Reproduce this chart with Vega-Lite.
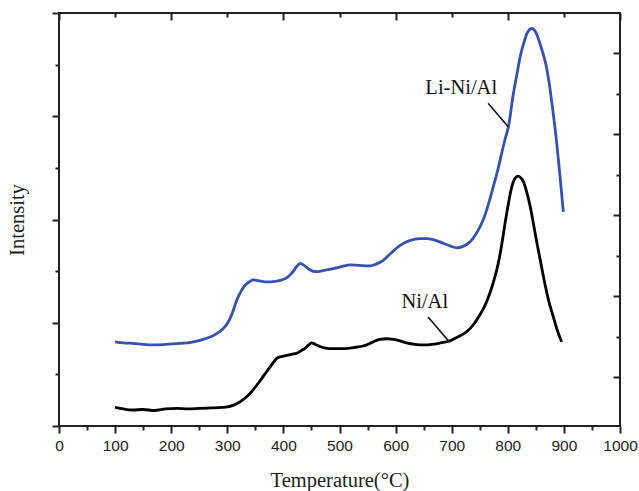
{
  "$schema": "https://vega.github.io/schema/vega-lite/v6.json",
  "width": 561,
  "height": 413,
  "autosize": "none",
  "padding": {"left": 59, "top": 13, "right": 19, "bottom": 65},
  "background": "white",
  "config": {
    "view": {"stroke": "#222", "strokeWidth": 2},
    "axis": {"domain": false, "grid": false, "tickColor": "#222", "tickWidth": 2, "labelFont": "Liberation Sans", "labelFontSize": 15.5, "labelColor": "#222", "titleFont": "Liberation Serif", "titleFontWeight": "normal", "titleFontSize": 20.5, "titleColor": "#222"}
  },
  "datasets": {
    "curves": [
      {"T":100,"v":0.36,"s":"Ni/Al"},{"T":115,"v":0.33,"s":"Ni/Al"},{"T":130,"v":0.31,"s":"Ni/Al"},{"T":150,"v":0.32,"s":"Ni/Al"},{"T":170,"v":0.30,"s":"Ni/Al"},{"T":190,"v":0.33,"s":"Ni/Al"},{"T":210,"v":0.34,"s":"Ni/Al"},{"T":230,"v":0.33,"s":"Ni/Al"},{"T":250,"v":0.34,"s":"Ni/Al"},{"T":270,"v":0.35,"s":"Ni/Al"},{"T":290,"v":0.36,"s":"Ni/Al"},{"T":300,"v":0.37,"s":"Ni/Al"},{"T":310,"v":0.40,"s":"Ni/Al"},{"T":323,"v":0.47,"s":"Ni/Al"},{"T":335,"v":0.57,"s":"Ni/Al"},{"T":346,"v":0.70,"s":"Ni/Al"},{"T":358,"v":0.87,"s":"Ni/Al"},{"T":370,"v":1.05,"s":"Ni/Al"},{"T":380,"v":1.20,"s":"Ni/Al"},{"T":388,"v":1.31,"s":"Ni/Al"},{"T":398,"v":1.35,"s":"Ni/Al"},{"T":406,"v":1.37,"s":"Ni/Al"},{"T":415,"v":1.39,"s":"Ni/Al"},{"T":424,"v":1.41,"s":"Ni/Al"},{"T":432,"v":1.46,"s":"Ni/Al"},{"T":438,"v":1.50,"s":"Ni/Al"},{"T":445,"v":1.57,"s":"Ni/Al"},{"T":450,"v":1.61,"s":"Ni/Al"},{"T":457,"v":1.58,"s":"Ni/Al"},{"T":465,"v":1.54,"s":"Ni/Al"},{"T":475,"v":1.51,"s":"Ni/Al"},{"T":489,"v":1.50,"s":"Ni/Al"},{"T":505,"v":1.50,"s":"Ni/Al"},{"T":525,"v":1.52,"s":"Ni/Al"},{"T":548,"v":1.57,"s":"Ni/Al"},{"T":560,"v":1.63,"s":"Ni/Al"},{"T":572,"v":1.68,"s":"Ni/Al"},{"T":585,"v":1.69,"s":"Ni/Al"},{"T":596,"v":1.68,"s":"Ni/Al"},{"T":608,"v":1.65,"s":"Ni/Al"},{"T":620,"v":1.61,"s":"Ni/Al"},{"T":635,"v":1.58,"s":"Ni/Al"},{"T":650,"v":1.57,"s":"Ni/Al"},{"T":665,"v":1.58,"s":"Ni/Al"},{"T":680,"v":1.61,"s":"Ni/Al"},{"T":697,"v":1.65,"s":"Ni/Al"},{"T":712,"v":1.73,"s":"Ni/Al"},{"T":727,"v":1.83,"s":"Ni/Al"},{"T":740,"v":1.98,"s":"Ni/Al"},{"T":750,"v":2.15,"s":"Ni/Al"},{"T":760,"v":2.35,"s":"Ni/Al"},{"T":768,"v":2.57,"s":"Ni/Al"},{"T":776,"v":2.85,"s":"Ni/Al"},{"T":783,"v":3.15,"s":"Ni/Al"},{"T":789,"v":3.50,"s":"Ni/Al"},{"T":795,"v":3.92,"s":"Ni/Al"},{"T":801,"v":4.30,"s":"Ni/Al"},{"T":807,"v":4.63,"s":"Ni/Al"},{"T":812,"v":4.78,"s":"Ni/Al"},{"T":818,"v":4.84,"s":"Ni/Al"},{"T":823,"v":4.81,"s":"Ni/Al"},{"T":828,"v":4.73,"s":"Ni/Al"},{"T":834,"v":4.52,"s":"Ni/Al"},{"T":840,"v":4.25,"s":"Ni/Al"},{"T":846,"v":3.90,"s":"Ni/Al"},{"T":852,"v":3.54,"s":"Ni/Al"},{"T":859,"v":3.15,"s":"Ni/Al"},{"T":866,"v":2.76,"s":"Ni/Al"},{"T":873,"v":2.42,"s":"Ni/Al"},{"T":881,"v":2.12,"s":"Ni/Al"},{"T":888,"v":1.86,"s":"Ni/Al"},{"T":896,"v":1.63,"s":"Ni/Al"},
      {"T":100,"v":1.63,"s":"Li-Ni/Al"},{"T":115,"v":1.61,"s":"Li-Ni/Al"},{"T":132,"v":1.60,"s":"Li-Ni/Al"},{"T":150,"v":1.58,"s":"Li-Ni/Al"},{"T":168,"v":1.57,"s":"Li-Ni/Al"},{"T":190,"v":1.58,"s":"Li-Ni/Al"},{"T":216,"v":1.60,"s":"Li-Ni/Al"},{"T":235,"v":1.62,"s":"Li-Ni/Al"},{"T":251,"v":1.66,"s":"Li-Ni/Al"},{"T":266,"v":1.71,"s":"Li-Ni/Al"},{"T":281,"v":1.79,"s":"Li-Ni/Al"},{"T":292,"v":1.88,"s":"Li-Ni/Al"},{"T":302,"v":2.02,"s":"Li-Ni/Al"},{"T":310,"v":2.22,"s":"Li-Ni/Al"},{"T":317,"v":2.44,"s":"Li-Ni/Al"},{"T":325,"v":2.62,"s":"Li-Ni/Al"},{"T":332,"v":2.73,"s":"Li-Ni/Al"},{"T":340,"v":2.80,"s":"Li-Ni/Al"},{"T":346,"v":2.83,"s":"Li-Ni/Al"},{"T":358,"v":2.81,"s":"Li-Ni/Al"},{"T":370,"v":2.79,"s":"Li-Ni/Al"},{"T":385,"v":2.80,"s":"Li-Ni/Al"},{"T":397,"v":2.83,"s":"Li-Ni/Al"},{"T":407,"v":2.88,"s":"Li-Ni/Al"},{"T":415,"v":2.96,"s":"Li-Ni/Al"},{"T":423,"v":3.08,"s":"Li-Ni/Al"},{"T":430,"v":3.15,"s":"Li-Ni/Al"},{"T":437,"v":3.11,"s":"Li-Ni/Al"},{"T":444,"v":3.05,"s":"Li-Ni/Al"},{"T":452,"v":3.00,"s":"Li-Ni/Al"},{"T":459,"v":2.99,"s":"Li-Ni/Al"},{"T":470,"v":3.01,"s":"Li-Ni/Al"},{"T":489,"v":3.05,"s":"Li-Ni/Al"},{"T":505,"v":3.09,"s":"Li-Ni/Al"},{"T":519,"v":3.12,"s":"Li-Ni/Al"},{"T":535,"v":3.11,"s":"Li-Ni/Al"},{"T":554,"v":3.10,"s":"Li-Ni/Al"},{"T":566,"v":3.14,"s":"Li-Ni/Al"},{"T":578,"v":3.21,"s":"Li-Ni/Al"},{"T":592,"v":3.35,"s":"Li-Ni/Al"},{"T":608,"v":3.50,"s":"Li-Ni/Al"},{"T":625,"v":3.59,"s":"Li-Ni/Al"},{"T":643,"v":3.63,"s":"Li-Ni/Al"},{"T":655,"v":3.63,"s":"Li-Ni/Al"},{"T":667,"v":3.61,"s":"Li-Ni/Al"},{"T":685,"v":3.54,"s":"Li-Ni/Al"},{"T":697,"v":3.49,"s":"Li-Ni/Al"},{"T":709,"v":3.45,"s":"Li-Ni/Al"},{"T":720,"v":3.48,"s":"Li-Ni/Al"},{"T":733,"v":3.57,"s":"Li-Ni/Al"},{"T":745,"v":3.75,"s":"Li-Ni/Al"},{"T":756,"v":3.99,"s":"Li-Ni/Al"},{"T":765,"v":4.28,"s":"Li-Ni/Al"},{"T":774,"v":4.63,"s":"Li-Ni/Al"},{"T":782,"v":4.95,"s":"Li-Ni/Al"},{"T":789,"v":5.28,"s":"Li-Ni/Al"},{"T":795,"v":5.55,"s":"Li-Ni/Al"},{"T":801,"v":5.79,"s":"Li-Ni/Al"},{"T":810,"v":6.44,"s":"Li-Ni/Al"},{"T":816,"v":6.80,"s":"Li-Ni/Al"},{"T":822,"v":7.15,"s":"Li-Ni/Al"},{"T":828,"v":7.40,"s":"Li-Ni/Al"},{"T":834,"v":7.60,"s":"Li-Ni/Al"},{"T":843,"v":7.70,"s":"Li-Ni/Al"},{"T":851,"v":7.60,"s":"Li-Ni/Al"},{"T":857,"v":7.42,"s":"Li-Ni/Al"},{"T":863,"v":7.21,"s":"Li-Ni/Al"},{"T":869,"v":6.95,"s":"Li-Ni/Al"},{"T":875,"v":6.55,"s":"Li-Ni/Al"},{"T":881,"v":6.05,"s":"Li-Ni/Al"},{"T":887,"v":5.50,"s":"Li-Ni/Al"},{"T":893,"v":4.85,"s":"Li-Ni/Al"},{"T":899,"v":4.15,"s":"Li-Ni/Al"}
    ],
    "labels": [
      {"T":717,"v":6.54,"text":"Li-Ni/Al"},
      {"T":652,"v":2.41,"text":"Ni/Al"}
    ],
    "leaders": [
      {"T":765,"v":6.25,"T2":801,"v2":5.79},
      {"T":658,"v":2.11,"T2":694,"v2":1.65}
    ]
  },
  "resolve": {"axis": {"x": "independent", "y": "independent"}},
  "layer": [
    {
      "data": {"name": "curves"},
      "mark": {"type": "line", "strokeWidth": 2.8, "interpolate": "monotone", "clip": true},
      "encoding": {
        "x": {"field": "T", "type": "quantitative", "scale": {"domain": [0, 1000], "nice": false, "zero": false},
              "axis": {"orient": "bottom", "values": [0,100,200,300,400,500,600,700,800,900,1000], "format": "d", "tickSize": 7, "labelPadding": 5, "title": "Temperature(°C)", "titlePadding": 17, "labelFlush": false}},
        "y": {"field": "v", "type": "quantitative", "scale": {"domain": [0, 8], "nice": false, "zero": false},
              "axis": {"orient": "left", "values": [0,2,4,6,8], "tickSize": 7, "labels": false, "title": "Intensity", "titlePadding": 24}},
        "color": {"field": "s", "type": "nominal", "scale": {"domain": ["Li-Ni/Al", "Ni/Al"], "range": ["#3552b0", "#000000"]}, "legend": null},
        "order": {"field": "T", "type": "quantitative"}
      }
    },
    {
      "data": {"name": "leaders"},
      "mark": {"type": "rule", "strokeWidth": 1.6, "color": "#111"},
      "encoding": {
        "x": {"field": "T", "type": "quantitative", "axis": {"orient": "bottom", "values": [50,150,250,350,450,550,650,750,850,950], "tickSize": 4, "labels": false, "title": null}},
        "y": {"field": "v", "type": "quantitative", "axis": {"orient": "left", "values": [1,3,5,7], "tickSize": 4, "labels": false, "title": null}},
        "x2": {"field": "T2"},
        "y2": {"field": "v2"}
      }
    },
    {
      "data": {"name": "labels"},
      "mark": {"type": "text", "font": "Liberation Serif", "fontSize": 20.5, "color": "#111", "baseline": "middle", "align": "center"},
      "encoding": {
        "x": {"field": "T", "type": "quantitative", "axis": {"orient": "top", "values": [0,200,400,600,800,1000], "tickSize": -7, "labels": false, "title": null}},
        "y": {"field": "v", "type": "quantitative", "axis": {"orient": "right", "values": [0.94,2.51,4.08,5.65,7.22], "tickSize": -7, "labels": false, "title": null}},
        "text": {"field": "text"}
      }
    },
    {
      "data": {"name": "labels"},
      "mark": {"type": "point", "opacity": 0},
      "encoding": {
        "x": {"field": "T", "type": "quantitative", "axis": {"orient": "top", "values": [100,300,500,700,900], "tickSize": -4, "labels": false, "title": null}},
        "y": {"field": "v", "type": "quantitative", "axis": {"orient": "right", "values": [1.73,3.3,4.87,6.44], "tickSize": -4, "labels": false, "title": null}}
      }
    }
  ]
}
